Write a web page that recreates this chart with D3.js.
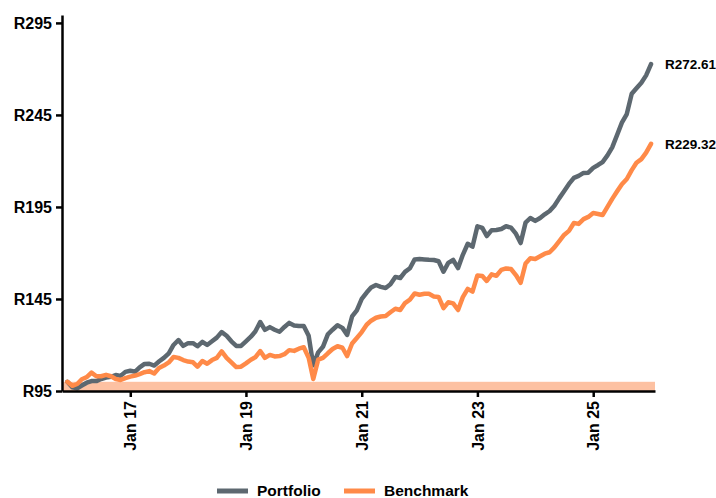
<!DOCTYPE html>
<html>
<head>
<meta charset="utf-8">
<script src="https://cdn.jsdelivr.net/npm/d3@7"></script>
<style>
  body { margin: 0; background: #fff; }
  svg { display: block; font-family: "Liberation Sans", Arial, sans-serif; font-weight: bold; }
  .axis path, .axis line { stroke: #000; stroke-width: 2.5px; }
  .axis text { fill: #000; font-size: 16px; font-weight: bold; }
  path.series { fill: none; stroke-width: 4.5px; stroke-linejoin: round; stroke-linecap: round; }
</style>
</head>
<body>
<svg id="chart" width="716" height="498"></svg>
<script>
// monthly index values, Dec 2015 .. Jan 2026
const firstMonth = new Date(2015, 11, 1);
const lastMonth = new Date(2026, 0, 1);

const portfolio = [
  100, 97, 96.5, 98, 99.5, 100.4, 100.4, 101.5, 102.3, 102.7,
  103.7, 103.2, 105.4, 106, 105.5, 107.8, 109.7, 109.8, 108.8, 111,
  113, 115.5, 120, 122.7, 119.5, 121, 121, 119.3, 121.7, 120,
  122, 124, 127, 125, 122, 119.5, 119.5, 122, 124.5, 127.3,
  132.5, 128.2, 129.7, 128.3, 127.2, 129.8, 132, 130.6, 130.3, 130.3,
  125, 109, 116, 119, 125.8, 128.3, 130.7, 129.3, 125.5, 135.5,
  138.8, 145, 148.5, 151.2, 152.6, 151.6, 151, 153, 157, 156.4,
  159.7, 161.7, 166.5, 166.7, 166.5, 166.3, 166.2, 165.5, 159.8, 164.6,
  166.2, 161.8, 169, 175, 173.4, 184.5, 183.6, 179.2, 182.4, 182.5,
  183, 184.5, 183.8, 180.5, 175.4, 186.5, 189, 187.4, 189, 191,
  192.8, 195.7, 199.8, 203.5, 207.5, 210.8, 211.9, 213.5, 213.6, 216.2,
  217.8, 219.4, 223, 227.4, 234.2, 240.8, 245.5, 256.5, 259.5, 262.5,
  266.5, 272.61
];

const benchmark = [
  100, 97.8, 98.8, 101.4, 102.5, 105, 103, 103, 103.8, 103,
  101.5, 101, 102, 102.8, 103.4, 104.2, 105.2, 105.8, 104.5, 107.5,
  108.8, 110.5, 113.5, 113, 111.8, 111, 110.6, 108.2, 111.3, 109.8,
  111.8, 113, 116.5, 113, 110.5, 108, 108.2, 110, 112, 113.3,
  116.7, 113, 114.6, 113.8, 114, 115, 117.2, 116.8, 118, 118.8,
  113, 101.5, 112, 113, 115.5, 117.8, 119.3, 118.5, 114, 120.8,
  123.8, 127, 131, 133.2, 134.8, 135.5, 135.8, 137.8, 139.7, 139,
  142.8, 144.6, 148, 147.3, 147.8, 147.8, 146.4, 146.1, 140, 143.2,
  142.6, 139, 146, 150.5, 149, 157.8, 157.5, 154.8, 158.4, 157.6,
  160.8, 161.6, 161.3, 158, 153.8, 164.3, 167.1, 166.7, 168.2, 169.6,
  170.4, 173, 176.4, 179.8, 182, 186.3, 185.8, 188.4, 189.6, 191.7,
  191.2, 190.6, 195, 199.4, 203.5, 207.3, 210.2, 215, 219, 221,
  224.5, 229.32
];

const seriesNames = ["Portfolio", "Benchmark"];
const seriesColors = ["#5d6870", "#ff8a48"];
const yTicks = [95, 145, 195, 245, 295];
const xTickYears = [2017, 2019, 2021, 2023, 2025];
const baseBand = [95, 100];

const dates = d3.timeMonth.range(firstMonth, d3.timeMonth.offset(lastMonth, 1));

const svg = d3.select("#chart");
const margin = { top: 15, right: 61, bottom: 107, left: 62 };
const width = 716 - margin.left - margin.right;
const height = 498 - margin.top - margin.bottom;

const g = svg.append("g")
    .attr("transform", "translate(" + margin.left + "," + margin.top + ")");

const x = d3.scaleTime()
    .domain([new Date(2015, 9, 28), new Date(2026, 0, 26)])
    .range([0, width]);
const y = d3.scaleLinear()
    .domain([95, 299.3])
    .range([height, 0]);

// shaded base band
g.append("rect")
    .attr("x", 0)
    .attr("width", width)
    .attr("y", y(baseBand[1]))
    .attr("height", y(baseBand[0]) - y(baseBand[1]))
    .attr("fill", "#fdc1a2");

const line = d3.line()
    .x((d, i) => x(dates[i]))
    .y(d => y(d));

[portfolio, benchmark].forEach((vals, k) => {
    g.append("path")
        .datum(vals)
        .attr("class", "series")
        .attr("stroke", seriesColors[k])
        .attr("d", line);

    const last = vals[vals.length - 1];
    g.append("text")
        .attr("x", x(dates[dates.length - 1]) + 14)
        .attr("y", y(last))
        .attr("dy", "0.35em")
        .style("font-size", "13.5px")
        .text("R" + last.toFixed(2));
});

// Y axis
g.append("g")
    .attr("class", "axis")
    .call(d3.axisLeft(y)
        .tickValues(yTicks)
        .tickSizeInner(6)
        .tickSizeOuter(0)
        .tickPadding(4)
        .tickFormat(d => "R" + d));

// X axis
const xAxis = g.append("g")
    .attr("class", "axis")
    .attr("transform", "translate(0," + height + ")")
    .call(d3.axisBottom(x)
        .tickValues(xTickYears.map(yr => new Date(yr, 0, 1)))
        .tickSizeInner(6)
        .tickSizeOuter(0)
        .tickFormat(d3.timeFormat("%b %y")));

xAxis.selectAll("text")
    .attr("transform", "rotate(-90)")
    .attr("x", -10)
    .attr("y", 0)
    .attr("dy", "0.35em")
    .style("text-anchor", "end");

// legend
const legend = svg.append("g").attr("transform", "translate(217,491)");
const legendX = [0, 127];
seriesNames.forEach((name, k) => {
    legend.append("line")
        .attr("x1", legendX[k]).attr("x2", legendX[k] + 31)
        .attr("y1", 0).attr("y2", 0)
        .attr("stroke", seriesColors[k])
        .attr("stroke-width", 5);
    legend.append("text")
        .attr("x", legendX[k] + 40)
        .attr("y", 0)
        .attr("dy", "0.33em")
        .style("font-size", "15.5px")
        .text(name);
});
</script>
</body>
</html>
